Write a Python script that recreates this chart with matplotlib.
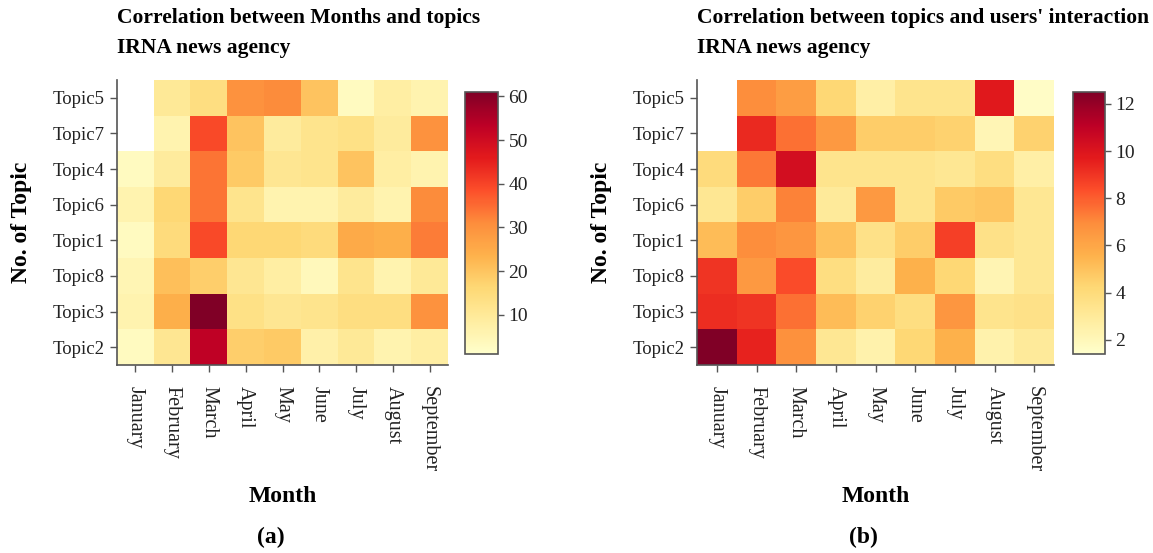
import numpy as np
import matplotlib
matplotlib.use("Agg")
import matplotlib.pyplot as plt

months = ["January", "February", "March", "April", "May", "June", "July", "August", "September"]
topics = ["Topic5", "Topic7", "Topic4", "Topic6", "Topic1", "Topic8", "Topic3", "Topic2"]

nan = np.nan
# (a) Correlation between months and topics
counts_a = [
    [nan, 10, 14, 30, 31, 20, 3, 8, 6],    # Topic5
    [nan, 6, 39, 20, 9, 12, 13, 9, 30],    # Topic7
    [3, 9, 34, 19, 11, 12, 20, 8, 6],      # Topic4
    [6, 16, 34, 12, 6, 6, 9, 6, 31],       # Topic6
    [3, 15, 39, 16, 16, 15, 25, 24, 33],   # Topic1
    [5, 21, 18, 11, 8, 4, 12, 6, 10],      # Topic8
    [6, 24, 61, 13, 11, 12, 14, 14, 30],   # Topic3
    [3, 11, 53, 18, 19, 7, 10, 6, 8],      # Topic2
]
# (b) Correlation between topics and users' interaction
inter_b = [
    [nan, 6.9, 6.3, 4.2, 2.6, 3.4, 3.4, 9.8, 1.6],   # Topic5
    [nan, 9.3, 7.6, 6.5, 4.6, 4.6, 4.4, 2.1, 4.4],   # Topic7
    [4.0, 7.4, 10.3, 3.4, 3.4, 3.4, 3.2, 3.8, 2.6],  # Topic4
    [3.2, 4.6, 7.2, 3.0, 6.5, 3.4, 4.7, 4.9, 3.2],   # Topic6
    [5.2, 6.9, 6.6, 5.0, 3.6, 4.6, 8.7, 3.6, 3.2],   # Topic1
    [9.0, 6.5, 8.4, 3.8, 2.8, 5.6, 4.2, 2.2, 3.2],   # Topic8
    [9.2, 9.0, 7.6, 5.2, 4.4, 3.8, 6.6, 3.4, 3.6],   # Topic3
    [12.5, 9.5, 6.8, 3.2, 2.4, 4.2, 5.6, 2.4, 3.0],  # Topic2
]
ticks_a = [10, 20, 30, 40, 50, 60]
ticks_b = [2, 4, 6, 8, 10, 12]

plt.rcParams['font.family'] = ['Liberation Serif', 'DejaVu Serif']

W, H = 1153, 553
fig = plt.figure(figsize=(W / 100, H / 100), dpi=100)

def px(x0, y0, x1, y1):
    return [x0 / W, 1 - y1 / H, (x1 - x0) / W, (y1 - y0) / H]

spine_col = "#555555"

def panel(data, hm_box, cb_box, title, vmin, vmax, cticks, label):
    ax = fig.add_axes(px(*hm_box))
    arr = np.ma.masked_invalid(np.array(data, dtype=float))
    cmap = plt.get_cmap("YlOrRd").copy()
    cmap.set_bad("white")
    im = ax.imshow(arr, cmap=cmap, vmin=vmin, vmax=vmax, aspect="auto",
                   interpolation="nearest")
    ax.set_xticks(range(len(months)))
    ax.set_xticklabels(months, rotation=270, fontsize=14.5, va="top", ha="center")
    ax.set_yticks(range(len(topics)))
    ax.set_yticklabels(topics, fontsize=13.5)
    for s in ["top", "right"]:
        ax.spines[s].set_visible(False)
    for s in ["left", "bottom"]:
        ax.spines[s].set_color(spine_col)
        ax.spines[s].set_linewidth(1.2)
    ax.tick_params(axis="both", colors=spine_col, length=5, width=1.0,
                   labelcolor="#222222", pad=4)
    ax.tick_params(axis="x", pad=10)
    xc = (hm_box[0] + hm_box[2]) / 2
    fig.text(xc / W, 1 - 497 / H, "Month", fontsize=17, fontweight="bold",
             ha="center", va="center")
    fig.text(22 / W + (hm_box[0] - 117) / W, 1 - 222 / H, "No. of Topic",
             fontsize=17, fontweight="bold", rotation=90, ha="center", va="center")
    x0 = hm_box[0]
    fig.text(x0 / W, 1 - 18 / H, title, fontsize=15.5, fontweight="bold",
             ha="left", va="center")
    fig.text(x0 / W, 1 - 48 / H, "IRNA news agency", fontsize=15.5,
             fontweight="bold", ha="left", va="center")
    fig.text((xc - 12) / W, 1 - 537 / H, label, fontsize=17, fontweight="bold",
             ha="center", va="center")
    cax = fig.add_axes(px(*cb_box))
    cb = fig.colorbar(im, cax=cax, ticks=cticks)
    cb.outline.set_edgecolor(spine_col)
    cb.outline.set_linewidth(1.2)
    cax.tick_params(colors=spine_col, length=4, width=1.0, labelcolor="#222222",
                    labelsize=14)
    return ax

panel(counts_a, (117, 80, 448, 365), (465, 92, 498, 354),
      "Correlation between Months and topics", 1.0, 61.0, ticks_a, "(a)")
panel(inter_b, (697, 80, 1054, 365), (1073, 92, 1105, 354),
      "Correlation between topics and users' interaction", 1.4, 12.5, ticks_b,
      "(b)")

fig.savefig("out.png", dpi=100)
